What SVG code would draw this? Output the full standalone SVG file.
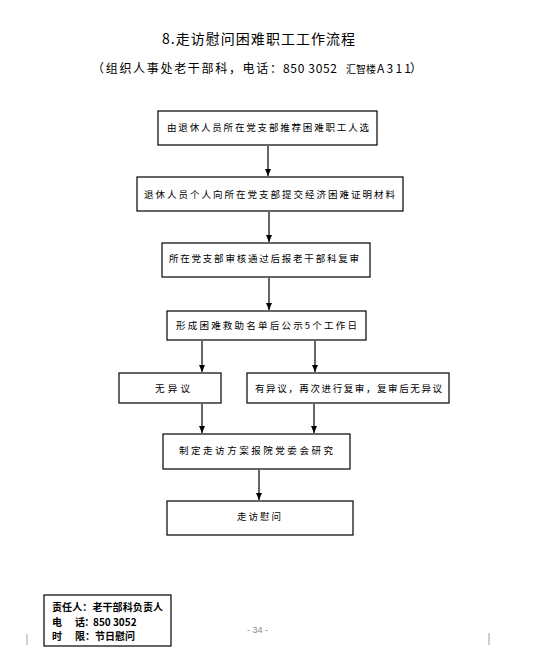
<svg xmlns="http://www.w3.org/2000/svg" width="533" height="651" viewBox="0 0 533 651">
<style>
.box{fill:#fff;stroke:#000;stroke-width:1.2}
.bt{font-family:"Noto Sans CJK SC","Noto Sans",sans-serif;font-size:9.5px;fill:#000}
.ttl{font-family:"Noto Sans CJK SC","Noto Sans",sans-serif;fill:#000}
.ft{font-family:"Noto Sans CJK SC","Liberation Serif",serif;font-size:10px;font-weight:bold;fill:#000}
.con{stroke:#000;stroke-width:1.2;fill:none;marker-end:url(#ah)}
</style>
<defs>
<marker id="ah" markerWidth="8" markerHeight="8" refX="7" refY="4" orient="auto" markerUnits="userSpaceOnUse">
<path d="M0,1 L7,4 L0,7 Z" fill="#000"/>
</marker>
</defs>
<rect width="533" height="651" fill="#fff"/>
<g id="title">
<text class="ttl" x="162" y="44" font-size="14" textLength="193" lengthAdjust="spacing">8.走访慰问困难职工工作流程</text>
<text class="ttl" x="92" y="73" font-size="12" textLength="190" lengthAdjust="spacing">（组织人事处老干部科，电话：</text>
<text class="ttl" x="283" y="73" font-size="12" font-family="Liberation Sans" textLength="54" lengthAdjust="spacing">850 3052</text>
<text class="ttl" x="346" y="73" font-size="10">汇智楼</text>
<text class="ttl" x="377" y="73" font-size="12" font-family="Liberation Sans" textLength="34" lengthAdjust="spacing">A311</text>
<text class="ttl" x="410" y="73" font-size="12">）</text>
</g>
<g id="connectors">
<line class="con" x1="268" y1="146" x2="268" y2="176"/>
<line class="con" x1="269" y1="212" x2="269" y2="242"/>
<line class="con" x1="269" y1="278" x2="269" y2="310"/>
<line class="con" x1="202" y1="341" x2="202" y2="372"/>
<line class="con" x1="315" y1="341" x2="315" y2="372"/>
<line class="con" x1="202" y1="404" x2="202" y2="433"/>
<line class="con" x1="314" y1="404" x2="314" y2="433"/>
<line class="con" x1="259" y1="470" x2="259" y2="500"/>
</g>
<g id="n1"><rect class="box" x="158" y="111" width="219" height="34"/><text class="bt" x="167" y="131" textLength="202" lengthAdjust="spacing">由退休人员所在党支部推荐困难职工人选</text></g>
<g id="n2"><rect class="box" x="137" y="177" width="266" height="34"/><text class="bt" x="144" y="198" textLength="251" lengthAdjust="spacing">退休人员个人向所在党支部提交经济困难证明材料</text></g>
<g id="n3"><rect class="box" x="162" y="243" width="208" height="34"/><text class="bt" x="169" y="262" textLength="190" lengthAdjust="spacing">所在党支部审核通过后报老干部科复审</text></g>
<g id="n4"><rect class="box" x="167" y="311" width="199" height="29"/><text class="bt" x="176" y="329" textLength="181" lengthAdjust="spacing">形成困难救助名单后公示5个工作日</text></g>
<g id="n5"><rect class="box" x="119" y="373" width="102" height="30"/><text class="bt" x="155" y="392" textLength="35" lengthAdjust="spacing">无异议</text></g>
<g id="n6"><rect class="box" x="247" y="373" width="202" height="30"/><text class="bt" x="255" y="392" textLength="187" lengthAdjust="spacing">有异议，再次进行复审，复审后无异议</text></g>
<g id="n7"><rect class="box" x="163" y="434" width="187" height="35"/><text class="bt" x="179" y="454" textLength="154" lengthAdjust="spacing">制定走访方案报院党委会研究</text></g>
<g id="n8"><rect class="box" x="167" y="501" width="186" height="34"/><text class="bt" x="237" y="520" textLength="44" lengthAdjust="spacing">走访慰问</text></g>
<g id="footer">
<rect x="44" y="595" width="127" height="51" fill="#fff" stroke="#000" stroke-width="1.2"/>
<text class="ft" x="52" y="611" textLength="111" lengthAdjust="spacing">责任人：老干部科负责人</text>
<text class="ft" x="52" y="626">电</text>
<text class="ft" x="75" y="626" letter-spacing="-0.8">话：</text>
<text class="ft" x="93" y="626" font-family="Liberation Serif" font-size="10.5">850 3052</text>
<text class="ft" x="52" y="640">时</text>
<text class="ft" x="75" y="640">限：节日慰问</text>
</g>
<g id="page">
<text x="257.5" y="633" font-family="Liberation Sans" font-size="9" fill="#8a8a8a" text-anchor="middle">- 34 -</text>
<line x1="27" y1="634" x2="27" y2="645" stroke="#a0a0a0" stroke-width="1"/>
<line x1="489" y1="633" x2="489" y2="645" stroke="#a0a0a0" stroke-width="1"/>
</g>
</svg>
